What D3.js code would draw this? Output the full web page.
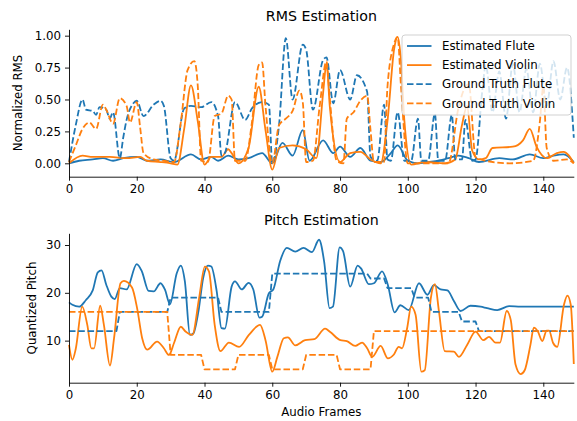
<!DOCTYPE html>
<html>
<head>
<meta charset="utf-8">
<script src="https://cdn.jsdelivr.net/npm/d3@7"></script>
<style>
  body { margin: 0; background: #fff; }
  svg { display: block; font-family: "DejaVu Sans", sans-serif; }
</style>
</head>
<body>
<div class="chart"></div>
<script>
// x ticks shared by both panels
const frameTicks = [0, 20, 40, 60, 80, 100, 120, 140];
const rmsTicks = [0, 0.25, 0.5, 0.75, 1.0];
const pitchTicks = [10, 20, 30];

// RMS panel, [frame, value]
const rmsEstFlute = [[0,0],[3,0.02],[7,0.03],[10,0.04],[13,0.02],[16,0.04],[20,0.05],[23,0.02],[27,0.03],[31,0.01],[36,0.07],[39,0.03],[42,0.05],[44,0.02],[47,0.06],[50,0.03],[53,0.04],[57,0.08],[60,0],[63,0.16],[66,0.06],[69,0.26],[71,0.02],[75,0.18],[78,0.08],[80,0.13],[83,0.05],[86,0.12],[89,0.02],[92,0.01],[95,0.08],[97,0.14],[100,0.02],[103,0],[106,0.01],[109,0.02],[112,0.04],[115,0.06],[118,0.04],[121,0.01],[127,0.04],[131,0.03],[136,0.07],[140,0.04],[143,0.06],[146,0.07],[149,0.01]];
const rmsEstViolin = [[0,0],[4,0.06],[7,0.05],[12,0.05],[17,0.04],[21,0.05],[23,0.02],[27,0.01],[30,0],[32,-0.01],[34,0.27],[36,0.61],[38,0.33],[40,-0.01],[42,0.05],[45,0.05],[47,0.11],[48,0.08],[50,0],[53,0.12],[56,0.6],[58,0.26],[60,-0.05],[62,0.12],[66,0.14],[70,0.11],[73,0.04],[75,0.55],[76,0.78],[77,0.44],[80,0.01],[83,0.08],[86,0.09],[89,0.03],[92,0],[94,0.33],[96,0.9],[97,0.99],[98,0.8],[99,0.33],[101,-0.01],[105,0.01],[111,0],[114,0.03],[116,0.3],[117.5,0.45],[119,0.1],[121,0.03],[123,0.04],[125,0.12],[131,0.13],[134,0.18],[136,0.27],[138,0.13],[141,0.04],[144,0.08],[146,0.09],[149,0]];
const rmsTrueFlute = [[0,0.01],[2,0.3],[4,0.5],[5,0.42],[7,0.41],[8,0.38],[9,0.44],[11,0.42],[12,0.35],[13,0.4],[15,0.04],[16,0.2],[17,0.34],[19,0.47],[20,0.49],[22,0.37],[25,0.46],[27,0.49],[28,0.45],[30,0.04],[31,0.02],[34,0.43],[36,0.45],[39,0.44],[42,0.48],[44,0.37],[45,0.06],[46,0.08],[49,0.48],[52,0.34],[54,0.43],[57,0.48],[59,0.46],[60,0],[62,0.3],[64,0.98],[66,0.5],[69,0.93],[70,0.89],[72,0.42],[75,0.81],[76,0.83],[78,0.47],[80,0.73],[83,0.5],[85,0.69],[88,0.56],[89,0.05],[91,0.02],[93,0.46],[94,0.03],[95,0.02],[97,0.4],[99,0.02],[101,0.02],[103,0.35],[104,0.02],[106,0.02],[108,0.39],[109,0.02],[111,0.02],[113,0.38],[114,0.03],[116,0.03],[117,0.34],[119,0.02],[120,0.03],[122,0.57],[123,0.77],[125,0.4],[127,0.72],[129,0.35],[131,0.78],[133,0.4],[135,0.74],[137,0.4],[139,0.78],[141,0.45],[143,0.8],[145,0.5],[147,0.75],[149,0.2]];
const rmsTrueViolin = [[0,0.01],[2,0.14],[4,0.27],[6,0.32],[8,0.27],[10,0.46],[11,0.42],[13,0.31],[15,0.51],[17,0.45],[18,0.32],[20,0.48],[21,0.28],[22,0.08],[25,0.03],[28,0.02],[31,0.01],[33,0.32],[35,0.73],[37,0.8],[38,0.61],[39,0.02],[41,0.01],[43,0.37],[45,0.39],[47,0.53],[48,0.5],[49,0.02],[52,0.02],[54,0.32],[56,0.77],[57,0.79],[58,0.45],[60,0],[62,0.3],[64,0.35],[66,0.41],[68,0.57],[69,0.48],[70,0.01],[72,0.02],[74,0.45],[76,0.8],[77,0.5],[79,0.02],[81,0],[82,0.35],[84,0.4],[86,0.49],[88,0.53],[89,0.26],[90,0.01],[93,0.01],[94,0.6],[96,0.94],[97,0.99],[98,0.6],[100,0],[107,0],[112,0],[115,0.44],[117,0.6],[118,0.62],[120,0.05],[123,0.02],[130,0],[137,0.02],[139,0.33],[140,0.6],[141,0.12],[143,0.02],[147,0.03],[149,0]];

// Pitch panel
const pitchEstFlute = [[0,18],[1,17.5],[3,17.1],[5,18.5],[7,20.5],[8.5,24.3],[9.6,24.7],[11,21.7],[12.5,19.2],[13.5,18.7],[15,21],[17,20.7],[20,26],[21.5,24.5],[23.5,20.4],[25,20.3],[27,22],[28.3,20.7],[29.8,17.6],[31.8,24.1],[33,25.7],[34.2,22.4],[35.7,11.2],[36.7,11.5],[38.2,16.1],[39.6,23.1],[41,25.7],[42,25.5],[43.6,20.3],[45,12.6],[46,12.5],[48,21.3],[49,22.4],[51,20.7],[53,22.1],[54.4,20.7],[56.2,14.8],[57,15],[59,19.9],[60.3,20.7],[62.3,26.6],[64.3,29.4],[66.8,28.6],[69.2,29.4],[71.7,28.5],[73.8,31.1],[75.3,26.6],[76.9,16.8],[77.9,17.1],[79.9,29.5],[80.9,28.7],[83,21.3],[85.2,25.7],[86.2,25.1],[88.5,21.8],[90,22],[92.4,24.5],[94.1,21.7],[96.1,15.9],[97.8,17.4],[100.3,16.4],[103.3,22],[105.8,19.6],[107.7,21.6],[109.7,20.7],[111.7,20.5],[113.6,18.3],[115.6,16.2],[118.5,17.3],[121.5,17.1],[123.4,16.8],[126.4,16.4],[129.9,17.2],[133.3,17.1],[149,17.1]];
const pitchEstViolin = [[0,9.1],[1,6],[2,8.3],[3.9,17.1],[5.4,13.3],[6.6,8.4],[7.4,8.4],[9.2,17.3],[10.3,13.3],[12.1,4.8],[13.3,10.5],[15.2,22],[16.2,22.5],[18.6,21.1],[20.1,16.8],[21.6,10.5],[23.1,8.1],[26,9.8],[28,8.4],[29.5,7],[31,9.5],[33,12.9],[34.4,11.9],[36.4,11.2],[38.4,18.9],[40.1,25.5],[41.3,24.5],[43,13.3],[44.7,7.8],[47.2,9.6],[50.2,8.7],[53.1,11.2],[56.4,13.3],[58,10.1],[60,3.5],[61.5,6.6],[63.4,10.5],[64.6,10.7],[66.8,9],[69.7,10.1],[72.4,10.3],[75.6,12.5],[77.1,11.8],[80.1,10.1],[82,9.9],[84.5,8.9],[86.5,9.6],[88,8.4],[89.5,6.6],[92,8.9],[94.1,6.3],[95.9,7.1],[97.3,8.7],[98.3,8.4],[99.8,12.6],[101,17.1],[102.3,15.4],[104,3.5],[105,3.8],[106.8,18.9],[108,21.8],[109.2,16.1],[110.9,7.8],[113.6,7.7],[115.1,6.6],[117.5,9.1],[120,11.9],[122.3,10.1],[124,10.8],[125.9,9.6],[127.2,9.6],[129.2,16.2],[130.4,14.3],[131.8,5],[133.3,3],[134.5,3.8],[136.2,9.1],[137.2,12.7],[138.4,11.9],[139.7,9.9],[141,12.1],[141.7,12.1],[142.9,9.5],[144.1,8.7],[146.1,17.5],[147.1,19.4],[148.1,17.5],[149,5.1]];
// ground truth pitch is held constant: frame where each note starts, and its value
const trueFluteStarts = [0, 15, 30, 45, 60, 89, 94, 102, 107, 116, 121];
const trueFluteNotes  = [12, 16, 19, 16, 24, 23, 21, 19, 16, 14, 12];
const trueViolinStarts = [0, 30, 40, 50, 60, 70, 80, 90];
const trueViolinNotes  = [16, 7, 4, 7, 4, 7, 4, 12];
const lastFrame = 149;

const blue = '#1f77b4', orange = '#ff7f0e';

const notesToPoints = (starts, notes) => {
    const pts = [];
    starts.forEach((s, i) => {
        const end = i < starts.length - 1 ? starts[i + 1] - 1 : lastFrame;
        pts.push([s, notes[i]], [end, notes[i]]);
    });
    return pts;
};

const W = 577, H = 421;
const svg = d3.select('.chart').append('svg')
    .attr('width', W).attr('height', H);

const left = 69, right = 573.8;
const x = d3.scaleLinear().domain([0, lastFrame]).range([left, right]);

const drawPanel = (top, bottom, yDomain, yTicks, yFmt, title, ylabel, labelX, series) => {
    const y = d3.scaleLinear().domain(yDomain).range([bottom, top]);
    const g = svg.append('g');

    const line = d3.line()
        .x(d => x(d[0])).y(d => y(d[1]));

    series.forEach(s => {
        g.append('path')
            .attr('d', line.curve(s.curve)(s.data))
            .attr('fill', 'none')
            .attr('stroke', s.color)
            .attr('stroke-width', 1.8)
            .attr('stroke-dasharray', s.dashed ? '6.5,2.8' : null)
            .attr('stroke-linejoin', 'round');
    });

    const xAxis = g.append('g')
        .attr('transform', `translate(0, ${bottom})`)
        .call(d3.axisBottom(x).tickValues(frameTicks).tickSize(4).tickPadding(4).tickSizeOuter(0));
    const yAxis = g.append('g')
        .attr('transform', `translate(${left}, 0)`)
        .call(d3.axisLeft(y).tickValues(yTicks).tickFormat(yFmt).tickSize(4).tickPadding(4).tickSizeOuter(0));

    [xAxis, yAxis].forEach(a => {
        a.select('.domain').attr('stroke', '#000').attr('stroke-width', 0.9);
        a.selectAll('.tick line').attr('stroke', '#000').attr('stroke-width', 0.9);
        a.selectAll('text').attr('font-size', 11.8).attr('fill', '#000')
            .attr('font-family', 'DejaVu Sans');
    });

    g.append('text')
        .attr('x', (left + right) / 2).attr('y', top - 8)
        .attr('text-anchor', 'middle').attr('font-size', 14.2)
        .text(title);

    g.append('text')
        .attr('transform', `translate(${labelX}, ${(top + bottom) / 2}) rotate(-90)`)
        .attr('text-anchor', 'middle').attr('font-size', 11.8)
        .text(ylabel);
};

const smooth = d3.curveMonotoneX;

drawPanel(29.3, 176.7, [-0.105, 1.05], rmsTicks, d3.format('.2f'),
    'RMS Estimation', 'Normalized RMS', 22, [
    { data: rmsEstFlute, color: blue, curve: smooth },
    { data: rmsEstViolin, color: orange, curve: smooth },
    { data: rmsTrueFlute, color: blue, dashed: true, curve: smooth },
    { data: rmsTrueViolin, color: orange, dashed: true, curve: smooth }
]);

drawPanel(233.3, 382.7, [1.2, 32.45], pitchTicks, d3.format('d'),
    'Pitch Estimation', 'Quantized Pitch', 36, [
    { data: pitchEstFlute, color: blue, curve: smooth },
    { data: pitchEstViolin, color: orange, curve: smooth },
    { data: notesToPoints(trueFluteStarts, trueFluteNotes), color: blue, dashed: true, curve: d3.curveLinear },
    { data: notesToPoints(trueViolinStarts, trueViolinNotes), color: orange, dashed: true, curve: d3.curveLinear }
]);

svg.append('text')
    .attr('x', (left + right) / 2).attr('y', 416)
    .attr('text-anchor', 'middle').attr('font-size', 11.8)
    .text('Audio Frames');

// legend
const legendItems = [
    { name: 'Estimated Flute', color: blue, dashed: false },
    { name: 'Estimated Violin', color: orange, dashed: false },
    { name: 'Ground Truth Flute', color: blue, dashed: true },
    { name: 'Ground Truth Violin', color: orange, dashed: true }
];
const legend = svg.append('g').attr('transform', 'translate(402, 35)');
legend.append('rect')
    .attr('width', 169).attr('height', 80).attr('rx', 3)
    .attr('fill', '#fff').attr('fill-opacity', 0.8)
    .attr('stroke', '#ccc').attr('stroke-width', 0.9);
legendItems.forEach((d, i) => {
    const ry = 11 + i * 19.1;
    legend.append('line')
        .attr('x1', 5).attr('x2', 29.5).attr('y1', ry).attr('y2', ry)
        .attr('stroke', d.color).attr('stroke-width', 1.8)
        .attr('stroke-dasharray', d.dashed ? '6.5,2.8' : null);
    legend.append('text')
        .attr('x', 40).attr('y', ry + 4.2)
        .attr('font-size', 11.8)
        .text(d.name);
});
</script>
</body>
</html>
